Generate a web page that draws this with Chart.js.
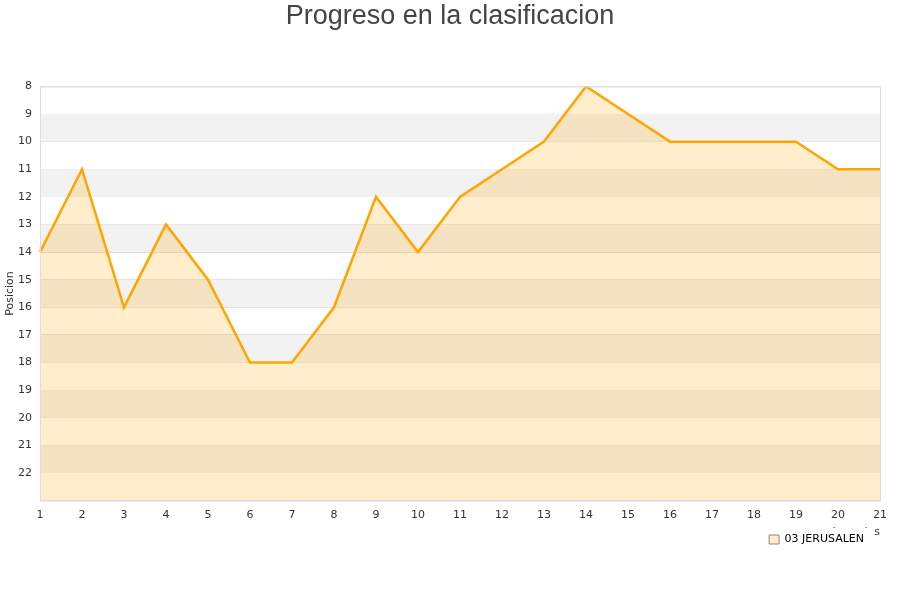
<!DOCTYPE html>
<html>
<head>
<meta charset="utf-8">
<script src="https://cdn.jsdelivr.net/npm/chart.js@4/dist/chart.umd.min.js"></script>
<style>
  html, body { margin: 0; padding: 0; background: #fff; }
  #wrap { width: 900px; height: 600px; }
</style>
</head>
<body>
<div id="wrap"><canvas id="chart"></canvas></div>
<script>
const jornadas = ['1', '2', '3', '4', '5', '6', '7', '8', '9', '10', '11', '12', '13', '14', '15', '16', '17', '18', '19', '20', '21'];
const posiciones = [14, 11, 16, 13, 15, 18, 18, 16, 12, 14, 12, 11, 10, 8, 9, 10, 10, 10, 10, 11, 11];
const teamName = '03 JERUSALEN';
const posMin = 8;
const posMax = 23;

// grey stripes behind the plot, every other row
const stripes = {
  id: 'stripes',
  beforeDatasetsDraw(chart) {
    const { ctx, chartArea: a, scales: { y } } = chart;
    ctx.save();
    ctx.fillStyle = '#f2f2f2';
    for (let v = posMin + 1; v < posMax; v += 2) {
      const top = y.getPixelForValue(v);
      const bot = y.getPixelForValue(v + 1);
      ctx.fillRect(a.left, top, a.right - a.left, bot - top);
    }
    ctx.restore();
  },
  afterDraw(chart) {
    const { ctx, chartArea: a } = chart;
    ctx.save();
    ctx.strokeStyle = '#dddddd';
    ctx.lineWidth = 1;
    ctx.strokeRect(a.left + 0.5, a.top + 0.5, a.right - a.left, a.bottom - a.top);
    // legend sits on a white box, over the axis title
    const l = chart.legend;
    if (l && l.legendHitBoxes.length) {
      const hb = l.legendHitBoxes[0];
      ctx.fillStyle = '#fff';
      ctx.fillRect(hb.left - 8, hb.top - 6, hb.width + 18, hb.height + 11);
      l.draw();
    }
    ctx.restore();
  },
};

new Chart(document.getElementById('chart'), {
  type: 'line',
  data: {
    labels: jornadas,
    datasets: [{
      label: teamName,
      data: posiciones,
      borderColor: '#ffa500',
      backgroundColor: 'rgba(255, 165, 0, 0.2)',
      borderWidth: 2.5,
      pointRadius: 0,
      tension: 0,
      fill: { value: posMax },
    }],
  },
  options: {
    responsive: true,
    maintainAspectRatio: false,
    animation: false,
    layout: { padding: { top: 0, right: 0, bottom: 45, left: 0 } },
    plugins: {
      title: {
        display: true,
        text: 'Progreso en la clasificacion',
        color: '#444',
        font: { family: 'Liberation Sans', size: 27, weight: 'normal' },
        padding: { top: 0, bottom: 54 },
      },
      legend: {
        position: 'bottom',
        align: 'end',
        fullSize: false,
        labels: {
          color: '#000',
          font: { family: 'DejaVu Sans', size: 11 },
          boxWidth: 10,
          boxHeight: 9,
          padding: 16,
          generateLabels() {
            return [{ text: teamName, fillStyle: 'rgba(255, 165, 0, 0.2)', strokeStyle: '#888', fontColor: '#000', lineWidth: 1, datasetIndex: 0 }];
          },
        },
      },
      tooltip: { enabled: false },
    },
    scales: {
      x: {
        grid: { display: false, drawTicks: false },
        border: { display: false },
        ticks: { color: '#333', font: { family: 'DejaVu Sans', size: 11 }, padding: 8, maxRotation: 0 },
        title: {
          display: true,
          text: 'Jornadas',
          align: 'end',
          color: '#333',
          font: { family: 'DejaVu Sans', size: 11 },
          padding: { top: -4, bottom: -21 },
        },
      },
      y: {
        reverse: true,
        min: posMin,
        max: posMax,
        afterFit(scale) { scale.width = 40; },
        grid: { color: '#dddddd', drawTicks: false },
        border: { display: false },
        ticks: {
          stepSize: 1,
          color: '#333',
          font: { family: 'DejaVu Sans', size: 11 },
          padding: 8,
          callback(value) { return value === posMax ? '' : value; },
        },
        title: {
          display: true,
          text: 'Posicion',
          color: '#333',
          font: { family: 'DejaVu Sans', size: 11 },
          padding: { top: 4, bottom: 0 },
        },
      },
      // empty right gutter so the plot ends at the same place as the original
      gutter: {
        type: 'linear',
        position: 'right',
        display: true,
        afterFit(scale) { scale.width = 20; },
        grid: { display: false, drawTicks: false },
        border: { display: false },
        ticks: { display: false },
      },
    },
  },
  plugins: [stripes],
});
</script>
</body>
</html>
